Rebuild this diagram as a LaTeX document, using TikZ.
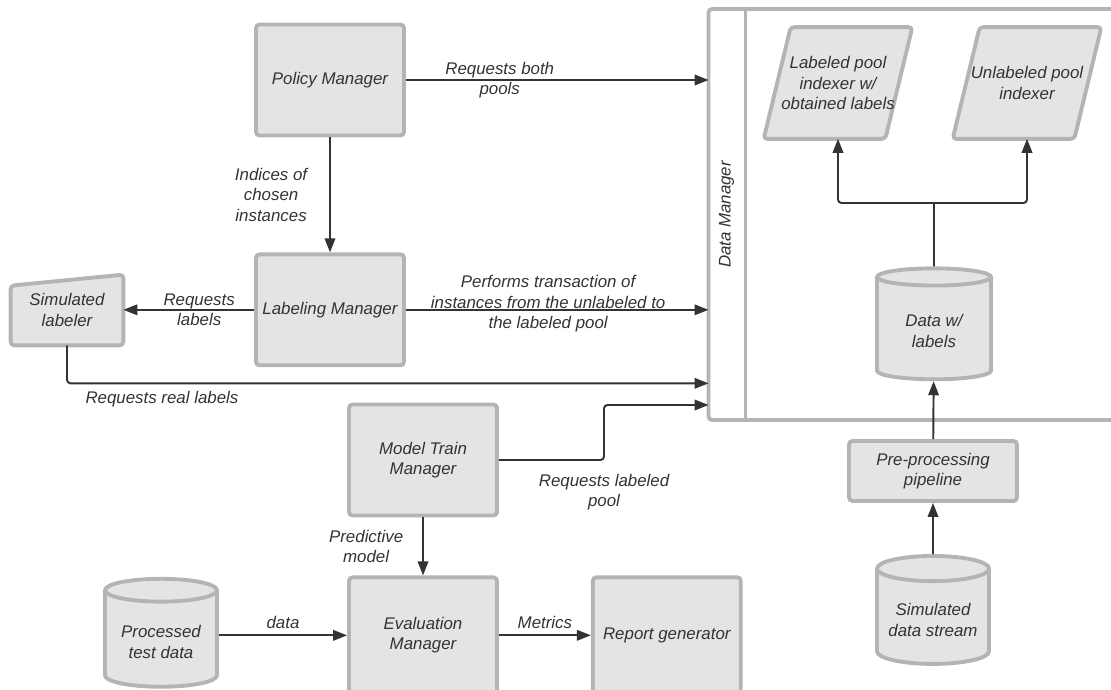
\documentclass[tikz,border=0pt]{standalone}
\usepackage{fontspec}
\setmainfont{Liberation Sans}
\usepackage{tikz}
\usetikzlibrary{positioning, arrows.meta, calc, shapes.geometric, backgrounds}
\definecolor{boxfill}{HTML}{E4E4E4}
\definecolor{boxline}{HTML}{B4B4B4}
\definecolor{ink}{HTML}{333333}
\tikzset{
  pipeline/.style={
	x=0.02cm, y=-0.02cm, % one unit is one pixel of the sketch, y grows downwards
	font=\fontsize{9.6}{11.7}\selectfont\itshape, % italic sans everywhere
	text=ink,
	>={Triangle[length=0.28cm, width=0.21cm]}, % solid heads
	every node/.append style={align=center},
  },
  block/.style={draw=boxline, line width=2.2pt, fill=boxfill, rounded corners=2pt, minimum width=2.96cm, minimum height=2.22cm}, % grey process box
  outline/.style={draw=boxline, line width=2.2pt, fill=boxfill, rounded corners=2pt, line join=round}, % hand drawn shapes
  store/.style={cylinder, shape border rotate=90, aspect=0.25, draw=boxline, line width=2.2pt, fill=boxfill, minimum width=2.24cm, minimum height=2.16cm}, % data cylinder
  holder/.style={minimum width=2.96cm, minimum height=2.22cm, inner sep=1pt}, % invisible frame for the parallelograms
  link/.style={draw=ink, line width=1.1pt, rounded corners=2pt},
  flow/.style={link, ->},
}

\begin{document}
\begin{tikzpicture}[pipeline]
	  \useasboundingbox (0,0) rectangle (1111,689);

	  \node[block] (pm) at (330,80) {Policy Manager};
	  \node[block, below=2.3cm of pm] (lm) {Labeling Manager};
	  \node[minimum width=2.24cm, minimum height=1.4cm] (sl) at (67,310) {Simulated\\labeler};
	  \node[block] (mtm) at (423,460) {Model Train\\Manager};
	  \node[block, below=1.16cm of mtm, minimum height=2.32cm] (em) {Evaluation\\Manager};
	  \node[block, right=1.84cm of em, minimum height=2.32cm] (rg) {Report generator};
	  \node[store] (ptd) at (161,642) {Processed\\test data};

	  \node[draw=boxline, line width=2.2pt, rounded corners=2pt, outer sep=0pt, minimum width=8.4cm, minimum height=8.22cm] (dm) at (918.5,214.5) {};
	  \draw[draw=boxline, line width=2.2pt] ($(dm.north west)+(37,0)$) -- ($(dm.south west)+(37,0)$);
	  \node[rotate=90] (dmlabel) at ($(dm.west)+(18,0)$) {Data Manager};
	  \node[holder] (lp) at (838,83) {Labeled pool\\indexer w/\\obtained labels};
	  \node[holder] (up) at (1027,83) {Unlabeled pool\\indexer};
	  \node[store, minimum width=2.28cm, minimum height=2.22cm] (dwl) at (934,331) {Data w/\\labels};
	  \node[block, minimum width=3.36cm, minimum height=1.2cm] (pp) at (933,471) {Pre-processing\\pipeline};
	  \node[store] (sds) at (933,620) {Simulated\\data stream};

	  \begin{scope}[on background layer]
	  \draw[outline] (sl.south west) -- (sl.south east) -- (sl.north east) -- ($(sl.north west)+(0,11)$) -- cycle;
	  \draw[outline] (lp.south west) -- ($(lp.north west)+(27,0)$) -- (lp.north east) -- ($(lp.south east)-(27,0)$) -- cycle;
	  \draw[outline] (up.south west) -- ($(up.north west)+(27,0)$) -- (up.north east) -- ($(up.south east)-(27,0)$) -- cycle;
	  \end{scope}

	  \coordinate[below=0.76cm of sl.south] (realturn);
	  \coordinate (trainturn) at (604,405);
	  \coordinate (split) at (934,203);

	  \draw[flow] (pm.east) -- node[pos=0.31]{Requests both\\pools} (pm.east -| dm.west);
	  \draw[flow] (pm) -- node[left=0.32cm]{Indices of\\chosen\\instances} (lm);
	  \draw[flow] (lm.east) -- node[pos=0.47, yshift=0.12cm]{Performs transaction of\\instances from the unlabeled to\\the labeled pool} (lm.east -| dm.west);
	  \draw[flow] (lm.west) -- node[pos=0.42]{Requests\\labels} (lm.west -| sl.east);
	  \draw[flow] (sl.south) -- (realturn) -- node[pos=0.148, yshift=-0.32cm]{Requests real labels} (realturn -| dm.west);
	  \draw[flow] (mtm.east) -| node[pos=0.5, yshift=-0.64cm]{Requests labeled\\pool} (trainturn) -- (trainturn -| dm.west);
	  \draw[flow] (mtm) -- node[left=0.26cm]{Predictive\\model} (em);
	  \draw[flow] (em.west -| ptd.east) -- node[above]{data} (em.west);
	  \draw[flow] (em) -- node[above]{Metrics} (rg);
	  \draw[flow] (sds) -- (pp);
	  \draw[flow] (pp) -- (dwl);
	  \draw[link] (dwl.north) -- (split);
	  \draw[flow] (split) -| (lp.south);
	  \draw[flow] (split) -| (up.south);
\end{tikzpicture}
\end{document}
